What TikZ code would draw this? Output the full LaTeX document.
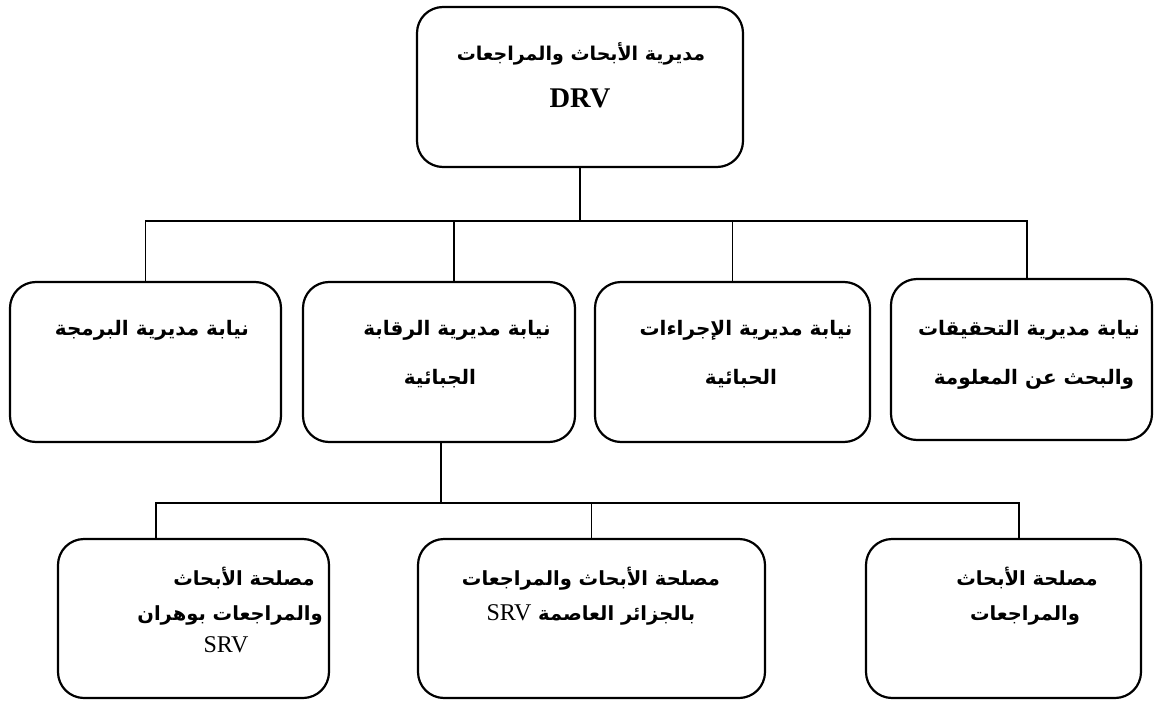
\documentclass[tikz,border=0pt]{standalone}
\usepackage{fontspec}
\setmainfont{Liberation Serif}
\newfontfamily\arfont[Script=Arabic]{DejaVu Sans}
\TeXXeTstate=1
\newcommand\arl[1]{{\arfont\bfseries\beginR #1\endR}}
\begin{document}
\begin{tikzpicture}[x=1pt,y=-1pt,
  box/.style={draw, line width=2.2pt, rounded corners=26pt, inner sep=0pt, outer sep=0pt},
  conn/.style={line width=1.1pt},
  artop/.style={inner sep=0pt, anchor=base, font=\fontsize{19pt}{22pt}\selectfont},
  armid/.style={inner sep=0pt, anchor=base, font=\fontsize{20pt}{22pt}\selectfont},
  arlow/.style={inner sep=0pt, anchor=base, font=\fontsize{19.5pt}{22pt}\selectfont},
  lattxt/.style={inner sep=0pt, anchor=base}]
\useasboundingbox (0,0) rectangle (1154,701);
% boxes
\node[box, minimum width=326pt, minimum height=160pt] (top) at (580,87) {};
\node[box, minimum width=271pt, minimum height=160pt] (a) at (145.5,362) {};
\node[box, minimum width=272pt, minimum height=160pt] (b) at (439,362) {};
\node[box, minimum width=275pt, minimum height=160pt] (c) at (732.5,362) {};
\node[box, minimum width=261pt, minimum height=161pt] (d) at (1021.5,359.5) {};
\node[box, minimum width=271pt, minimum height=159pt] (s1) at (193.5,618.5) {};
\node[box, minimum width=347pt, minimum height=159pt] (s2) at (591.5,618.5) {};
\node[box, minimum width=275pt, minimum height=159pt] (s3) at (1003.5,618.5) {};
% texts
\node[artop] (t1) at (581,60) {\arl{مديرية الأبحاث والمراجعات}};
\node[lattxt, font=\fontsize{28.5pt}{32pt}\selectfont\bfseries] (t2) at (580,107) {DRV};
\node[armid] (ta1) at (152,335) {\arl{نيابة مديرية البرمجة}};
\node[armid] (tb1) at (457,335) {\arl{نيابة مديرية الرقابة}};
\node[armid] (tb2) at (440,384) {\arl{الجبائية}};
\node[armid] (tc1) at (746,335) {\arl{نيابة مديرية الإجراءات}};
\node[armid] (tc2) at (741,384) {\arl{الحبائية}};
\node[armid] (td1) at (1029,335) {\arl{نيابة مديرية التحقيقات}};
\node[armid] (td2) at (1034,384) {\arl{والبحث عن المعلومة}};
\node[arlow] (ts11) at (244,585) {\arl{مصلحة الأبحاث}};
\node[arlow] (ts12) at (230,620) {\arl{والمراجعات بوهران}};
\node[lattxt, font=\fontsize{24pt}{28pt}\selectfont] (ts13) at (226,652) {SRV};
\node[arlow] (ts21) at (591,585) {\arl{مصلحة الأبحاث والمراجعات}};
\node[arlow] (ts22) at (591,620) {{\arfont\bfseries\beginR بالجزائر العاصمة {\normalfont\fontsize{24pt}{28pt}\selectfont\beginL SRV\endL}\endR}};
\node[arlow] (ts31) at (1027,585) {\arl{مصلحة الأبحاث}};
\node[arlow] (ts32) at (1025,620) {\arl{والمراجعات}};
% connectors level 1
\coordinate (bus1) at (0,221);
\coordinate (dA) at (a.north);
\coordinate (dB) at ([xshift=15pt]b.north);
\coordinate (dC) at (c.north);
\coordinate (dD) at ([xshift=5.5pt]d.north);
\draw[conn] (top.south) -- (top.south |- bus1);
\draw[conn] (dA) |- (dD |- bus1) -- (dD);
\draw[conn] (dB) -- (dB |- bus1);
\draw[conn] (dC) -- (dC |- bus1);
% connectors level 2
\coordinate (bus2) at (0,503);
\coordinate (sb) at ([xshift=2pt]b.south);
\coordinate (eA) at ([xshift=-37.5pt]s1.north);
\coordinate (eB) at (s2.north);
\coordinate (eC) at ([xshift=15.5pt]s3.north);
\draw[conn] (sb) -- (sb |- bus2);
\draw[conn] (eA) |- (eC |- bus2) -- (eC);
\draw[conn] (eB) -- (eB |- bus2);
\end{tikzpicture}
\end{document}
